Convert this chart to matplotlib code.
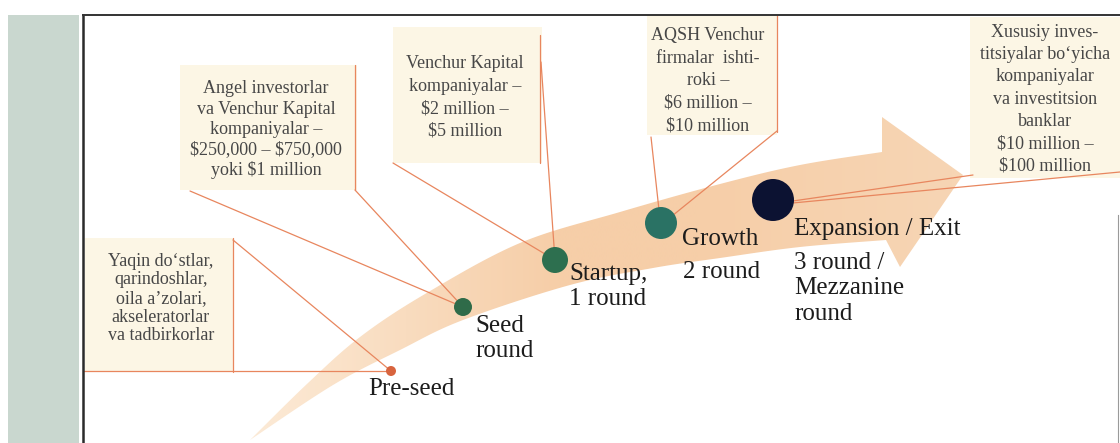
import numpy as np
import matplotlib.pyplot as plt
from matplotlib.path import Path
from matplotlib.patches import PathPatch, Rectangle

W, H = 1120, 443

# funding stages along the arrow
stage_names = ['Pre-seed', 'Seed\nround', 'Startup,\n1 round', 'Growth', 'Expansion / Exit']
stage_rounds = ['', '', '', '2 round', '3 round /\nMezzanine\nround']
stage_colors = ['#d8643e', '#2f6b49', '#2d6f4f', '#2a7264', '#0c1232']
stage_x = [391, 463, 555, 661, 773]          # dot centres (px)
stage_y = [371, 307, 260, 223, 200]
stage_r = [5, 9, 13, 16, 21]                 # dot radius (px)
label_x = [368, 475, 569, 682, 794]
label_y = [395, 332, 280, 245, 235]          # first baseline
round_x = [0, 0, 0, 683, 794]
round_y = [0, 0, 0, 278, 269]

# investors for each stage
investors = [
    "Yaqin do\u2018stlar,\nqarindoshlar,\noila a\u2019zolari,\nakseleratorlar\nva tadbirkorlar",
    "Angel investorlar\nva Venchur Kapital\nkompaniyalar \u2013\n$250,000 \u2013 $750,000\nyoki $1 million",
    "Venchur Kapital\nkompaniyalar \u2013\n$2 million \u2013\n$5 million",
    "AQSH Venchur\nfirmalar  ishti-\nroki \u2013\n$6 million \u2013\n$10 million",
    "Xususiy inves-\ntitsiyalar bo\u2018yicha\nkompaniyalar\nva investitsion\nbanklar\n$10 million \u2013\n$100 million",
]
box_x0 = [85, 180, 393, 647, 970]
box_y0 = [238, 65, 27, 15, 17]
box_x1 = [233, 357, 542, 777, 1120]
box_y1 = [372, 190, 163, 135, 178]
text_cx = [161, 266, 465, 708, 1045]
text_y0 = [266, 93, 68, 40, 37]              # first baseline
text_gap = [18.5, 20.5, 22.5, 22.5, 22.2]

# connector lines: (x0, y0) -> (x1, y1)
links = [
    ((233, 240), (391, 371)), ((83, 371), (391, 371)), ((233, 238), (233, 372)),
    ((190, 191), (463, 307)), ((355, 190), (463, 307)), ((355, 65), (355, 190)),
    ((393, 163), (555, 260)), ((541, 62), (555, 260)), ((540, 35), (540, 163)),
    ((651, 137), (659, 210)), ((777, 131), (672, 216)), ((777, 15), (777, 132)),
    ((973, 175), (779, 203)), ((1120, 172), (782, 204)),
]

# outline of the curved arrow
upper = [(250, 440), (308, 383), (360, 337), (425, 294), (520, 243), (620, 212),
         (720, 184), (800, 165), (882, 152)]
lower = [(250, 440), (333, 385), (400, 350), (463, 320), (570, 285), (653, 268),
         (720, 258), (800, 247), (886, 240)]
head = [(882, 117), (963, 175), (900, 267)]


def smooth(pts, n=24):
    # catmull-rom through the points
    pts = np.asarray(pts, float)
    p = np.vstack([pts[0], pts, pts[-1]])
    out = []
    t = np.linspace(0, 1, n, endpoint=False)[:, None]
    for i in range(1, len(p) - 2):
        p0, p1, p2, p3 = p[i - 1], p[i], p[i + 1], p[i + 2]
        out.append(0.5 * (2 * p1 + (-p0 + p2) * t + (2 * p0 - 5 * p1 + 4 * p2 - p3) * t ** 2
                          + (-p0 + 3 * p1 - 3 * p2 + p3) * t ** 3))
    out.append(pts[-1:])
    return np.vstack(out)


fig = plt.figure(figsize=(W / 100, H / 100), dpi=100)
ax = fig.add_axes([0, 0, 1, 1])
ax.set_xlim(0, W)
ax.set_ylim(H, 0)
ax.axis('off')

# page frame
ax.add_patch(Rectangle((8, 15), 71, H - 15, color='#c9d7cf', lw=0, zorder=0))
ax.plot([83, 83], [15, H], color='#2b2b2b', lw=1.8, zorder=6)
ax.plot([83, W], [15, 15], color='#333333', lw=1.4, zorder=6)
ax.plot([1118, 1118], [215, H], color='#9a9a9a', lw=0.8, zorder=6)

# investor boxes
for x0, y0, x1, y1 in zip(box_x0, box_y0, box_x1, box_y1):
    ax.add_patch(Rectangle((x0, y0), x1 - x0, y1 - y0, color='#fcf6e5', lw=0, zorder=1))

# arrow with a light gradient
up = smooth(upper)
lo = smooth(lower)
outline = np.vstack([up, head, lo[::-1]])
arrow = PathPatch(Path(outline, closed=True), facecolor='none', edgecolor='none')
ax.add_patch(arrow)
c0 = np.array([252, 234, 214]) / 255
c1 = np.array([246, 206, 168]) / 255
c2 = np.array([247, 213, 180]) / 255
mix = np.clip((np.linspace(0, W, 256) - 255) / 300, 0, 1)[:, None]
mix2 = np.clip((np.linspace(0, W, 256) - 700) / 250, 0, 1)[:, None]
grad = c0 * (1 - mix) + c1 * mix
grad = grad * (1 - mix2) + c2 * mix2
img = ax.imshow(grad[None, :, :], extent=[0, W, H, 0], aspect='auto', zorder=2,
                interpolation='bilinear')
img.set_clip_path(arrow)

# connectors
for (xa, ya), (xb, yb) in links:
    ax.plot([xa, xb], [ya, yb], color='#e8865e', lw=0.9, zorder=3, solid_capstyle='round')

# stage dots
sizes = [(2 * r * 0.72) ** 2 for r in stage_r]
ax.scatter(stage_x, stage_y, s=sizes, c=stage_colors, zorder=4, linewidths=0)

serif = 'Liberation Serif'


def lines(x, y0, text, gap, size, color, ha):
    for i, line in enumerate(text.split('\n')):
        ax.text(x, y0 + i * gap, line, ha=ha, va='baseline', fontsize=size,
                family=serif, color=color, zorder=5, parse_math=False)


for cx, y0, gap, txt in zip(text_cx, text_y0, text_gap, investors):
    lines(cx, y0, txt, gap, 13, '#474747', 'center')

for x, y, name in zip(label_x, label_y, stage_names):
    lines(x, y, name, 25, 18, '#1c1c1c', 'left')
for x, y, rnd in zip(round_x, round_y, stage_rounds):
    if rnd:
        lines(x, y, rnd, 25.5, 18, '#1c1c1c', 'left')

fig.savefig('out.png', dpi=100)
